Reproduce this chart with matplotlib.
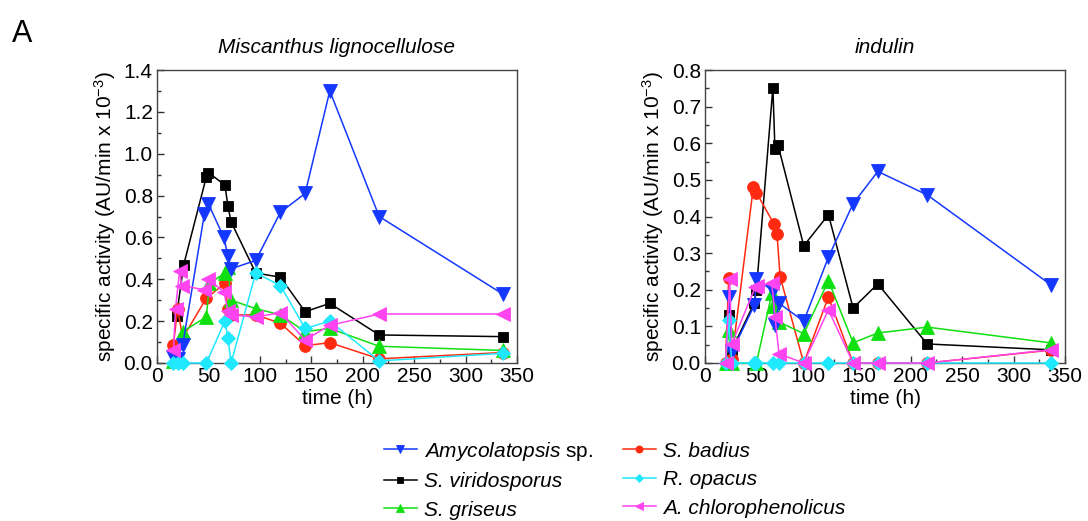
import matplotlib
matplotlib.use("Agg")
import matplotlib.pyplot as plt
from matplotlib.ticker import MultipleLocator

plt.rcParams['font.family'] = ['Liberation Sans', 'DejaVu Sans']
plt.rcParams['mathtext.fontset'] = 'custom'
plt.rcParams['mathtext.rm'] = 'Liberation Sans'
plt.rcParams['mathtext.it'] = 'Liberation Sans:italic'

# ---------------- data: Miscanthus lignocellulose ----------------
L_amy_t = [16, 20, 25, 46, 50, 65, 69, 72, 96, 120, 144, 168, 216, 336]
L_amy_v = [0.03, 0.02, 0.086, 0.71, 0.76, 0.60, 0.51, 0.45, 0.49, 0.72, 0.81, 1.30, 0.70, 0.33]
L_vir_t = [19, 26, 48, 50, 66, 69, 72, 96, 120, 144, 168, 216, 336]
L_vir_v = [0.225, 0.47, 0.89, 0.91, 0.85, 0.75, 0.675, 0.43, 0.41, 0.245, 0.285, 0.134, 0.126]
L_gri_t = [16, 25, 48, 51, 66, 69, 72, 96, 120, 144, 168, 216, 336]
L_gri_v = [0.01, 0.15, 0.22, 0.38, 0.43, 0.46, 0.30, 0.26, 0.23, 0.15, 0.165, 0.08, 0.06]
L_bad_t = [16, 20, 25, 48, 66, 69, 72, 96, 120, 144, 168, 216, 336]
L_bad_v = [0.086, 0.26, 0.12, 0.31, 0.38, 0.26, 0.23, 0.23, 0.19, 0.083, 0.097, 0.02, 0.05]
L_opa_t = [16, 20, 25, 48, 66, 69, 72, 96, 120, 144, 168, 216, 336]
L_opa_v = [0.0, 0.0, 0.0, 0.0, 0.20, 0.12, 0.0, 0.43, 0.37, 0.165, 0.20, 0.01, 0.046]
L_chl_t = [16, 18, 22, 24, 46, 50, 65, 69, 72, 96, 120, 144, 168, 216, 336]
L_chl_v = [0.06, 0.26, 0.44, 0.37, 0.35, 0.40, 0.34, 0.25, 0.23, 0.22, 0.24, 0.11, 0.18, 0.234, 0.234]

# ---------------- data: indulin ----------------
R_amy_t = [23, 26, 48, 50, 66, 68, 72, 96, 120, 144, 168, 216, 336]
R_amy_v = [0.18, 0.03, 0.158, 0.229, 0.197, 0.104, 0.163, 0.114, 0.289, 0.435, 0.523, 0.459, 0.214]
R_vir_t = [23, 26, 48, 50, 66, 68, 71, 96, 120, 144, 168, 216, 336]
R_vir_v = [0.13, 0.035, 0.165, 0.20, 0.752, 0.584, 0.595, 0.32, 0.405, 0.15, 0.216, 0.052, 0.036]
R_gri_t = [20, 23, 26, 50, 65, 66, 72, 96, 120, 144, 168, 216, 336]
R_gri_v = [0.0, 0.09, 0.0, 0.0, 0.19, 0.155, 0.112, 0.08, 0.225, 0.055, 0.082, 0.098, 0.055]
R_bad_t = [20, 23, 26, 47, 50, 67, 70, 73, 96, 120, 144, 168, 216, 336]
R_bad_v = [0.0, 0.231, 0.01, 0.48, 0.465, 0.38, 0.352, 0.236, 0.0, 0.18, 0.0, 0.0, 0.0, 0.035]
R_opa_t = [20, 23, 26, 48, 50, 66, 72, 96, 120, 144, 168, 216, 336]
R_opa_v = [0.0, 0.117, 0.0, 0.0, 0.0, 0.0, 0.0, 0.0, 0.0, 0.0, 0.0, 0.0, 0.0]
R_chl_t = [20, 24, 26, 49, 51, 65, 68, 72, 96, 120, 144, 168, 216, 336]
R_chl_v = [0.0, 0.228, 0.052, 0.208, 0.21, 0.218, 0.126, 0.025, 0.0, 0.145, 0.0, 0.0, 0.0, 0.036]

labels = ["Amycolatopsis $\\mathrm{sp.}$", "S. viridosporus", "S. griseus",
          "S. badius", "R. opacus", "A. chlorophenolicus"]
titles = ["Miscanthus lignocellulose", "indulin"]
xticks = [0, 50, 100, 150, 200, 250, 300, 350]

colors = ["#1438FF", "#000000", "#10E010", "#FF2A10", "#20E8FF", "#FF44F0"]
markers = ["v", "s", "^", "o", "D", "<"]
msizes = [10, 7.5, 10, 8.5, 7.5, 10]

FS = 15

fig = plt.figure(figsize=(10.88, 5.21), dpi=100)
axL = fig.add_axes([157/1088, 1-363/521, 360/1088, 293/521])
axR = fig.add_axes([705/1088, 1-363/521, 360/1088, 293/521])

left_sets = [(L_amy_t, L_amy_v), (L_vir_t, L_vir_v), (L_gri_t, L_gri_v),
             (L_bad_t, L_bad_v), (L_opa_t, L_opa_v), (L_chl_t, L_chl_v)]
right_sets = [(R_amy_t, R_amy_v), (R_vir_t, R_vir_v), (R_gri_t, R_gri_v),
              (R_bad_t, R_bad_v), (R_opa_t, R_opa_v), (R_chl_t, R_chl_v)]
zorders = [4, 3, 3.5, 3.2, 4.5, 5]

handles = []
for ax, sets, ymax, ymaj, ymin_, title in [
        (axL, left_sets, 1.4, 0.2, 0.1, titles[0]),
        (axR, right_sets, 0.8, 0.1, 0.05, titles[1])]:
    hs = []
    for i, (t, v) in enumerate(sets):
        h, = ax.plot(t, v, color=colors[i], marker=markers[i], markersize=msizes[i],
                     linewidth=1.1, markeredgewidth=0.6, markeredgecolor=colors[i],
                     label=labels[i], zorder=zorders[i], clip_on=False)
        hs.append(h)
    handles = hs
    ax.set_xlim(0, 350)
    ax.set_ylim(0, ymax)
    ax.set_xticks(xticks)
    ax.xaxis.set_minor_locator(MultipleLocator(25))
    ax.yaxis.set_major_locator(MultipleLocator(ymaj))
    ax.yaxis.set_minor_locator(MultipleLocator(ymin_))
    ax.yaxis.set_major_formatter(matplotlib.ticker.FormatStrFormatter('%.1f'))
    ax.tick_params(which='both', direction='in', top=False, right=False,
                   labelsize=FS, color='#333333', width=1)
    ax.tick_params(which='major', length=5, pad=3)
    ax.tick_params(which='minor', length=3)
    for s in ax.spines.values():
        s.set_color('#444444')
        s.set_linewidth(1.0)
    ax.set_xlabel("time (h)", fontsize=FS, labelpad=2)
    ax.set_ylabel("specific activity (AU/min x 10$^{\\mathrm{-3}}$)", fontsize=FS, labelpad=4)
    ax.set_title(title, fontsize=FS, style='italic', pad=12)

fig.text(12/1088, 1-42/521, "A", fontsize=22)

leg = fig.legend(handles, labels, loc='upper left', bbox_to_anchor=(365/1088, 1-421/521),
                 ncol=2, frameon=False, fontsize=FS, markerscale=0.6,
                 handlelength=1.6, columnspacing=1.4, labelspacing=0.45, handletextpad=0.35)
for txt in leg.get_texts():
    txt.set_fontstyle('italic')

fig.savefig("out.png", dpi=100)
